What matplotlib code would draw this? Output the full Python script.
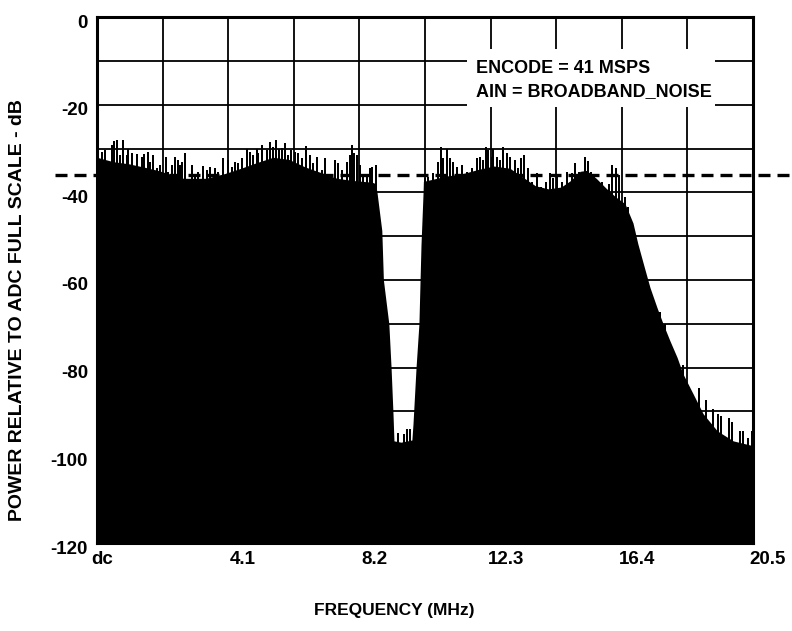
import numpy as np
import matplotlib
matplotlib.use("Agg")
import matplotlib.pyplot as plt
from matplotlib.transforms import ScaledTranslation
from matplotlib.patches import Rectangle

plt.rcParams["font.family"] = ["Liberation Sans", "DejaVu Sans"]
plt.rcParams["font.weight"] = "bold"

# noise floor body of the spectrum (MHz, dBFS)
floor_mhz = [0, 0.5, 1.0, 1.5, 1.9, 2.7, 3.4, 4.0, 4.5, 5.0, 5.5, 6.0, 6.5,
             7.0, 7.5, 8.0, 8.6, 8.7, 8.75, 8.9, 8.95, 9.12, 9.19, 9.25, 9.28,
             9.5, 9.84, 9.875, 9.97, 10.06, 10.125, 10.19, 10.2, 10.5, 10.9,
             11.4, 11.9, 12.4, 12.9, 13.3, 13.7, 14.1, 14.5, 14.8, 15.1, 15.3,
             15.6, 15.9, 16.2, 16.5, 16.75, 16.9, 17.1, 17.28, 17.5, 17.69,
             17.9, 18.13, 18.31, 18.63, 18.94, 19.38, 19.88, 20.5]
floor_db = [-32, -33, -33.5, -34.3, -35, -36.8, -36.8, -35.7, -34.5, -33.2,
            -32, -32.5, -34.2, -35.5, -36.8, -37.3, -37.7, -38, -40, -48.7,
            -60, -70, -80, -90.5, -96.7, -97, -96.5, -92.8, -80, -70, -52, -40,
            -37.5, -37, -36.3, -35.8, -34.8, -34, -34.5, -36.5, -38.5, -39.2,
            -38.8, -37.3, -35.2, -35, -36.8, -39, -41, -42.6, -47, -51.7, -57,
            -61.7, -66.3, -70, -73.8, -77.7, -81.4, -86, -90.5, -94.4, -96.7,
            -97.8]

# individual FFT bin spikes rising above the floor
spike_mhz = [0.02, 0.15, 0.25, 0.46, 0.54, 0.62, 0.72, 0.82, 0.93, 0.98, 1.08,
             1.24, 1.40, 1.48, 1.58, 1.66, 1.76, 1.86, 1.97, 2.16, 2.23, 2.33,
             2.44, 2.52, 2.59, 2.67, 2.75, 2.96, 3.06, 3.17, 3.32, 3.43, 3.53,
             3.69, 3.79, 3.95, 4.10, 4.21, 4.31, 4.42, 4.52, 4.68, 4.78, 4.88,
             4.99, 5.04, 5.17, 5.30, 5.41, 5.51, 5.58, 5.69, 5.77, 5.88, 5.98,
             6.06, 6.19, 6.29, 6.40, 6.52, 6.66, 6.76, 6.86, 7.02, 7.13, 7.28,
             7.44, 7.54, 7.65, 7.80, 7.91, 7.98, 8.04, 8.11, 8.22, 8.32, 8.43,
             8.53, 8.60, 8.71,
             9.42, 9.58, 9.68, 9.78,
             10.25, 10.35, 10.51, 10.67, 10.74, 10.82, 10.93, 11.03, 11.13,
             11.24, 11.40, 11.55, 11.71, 11.87, 11.97, 12.07, 12.15, 12.23,
             12.33, 12.39, 12.49, 12.59, 12.70, 12.80, 12.91, 13.06, 13.17,
             13.25, 13.35, 13.46, 13.60, 13.74, 13.88, 14.02, 14.16, 14.26,
             14.36, 14.52, 14.68, 14.83, 14.94, 15.06, 15.25, 15.34, 15.44,
             15.53, 15.63, 15.78, 16.0, 16.1, 16.22, 16.31, 16.5, 16.59,
             17.6, 17.75, 18.31, 18.81, 19.03, 19.25, 19.41, 19.5, 19.75,
             19.84, 20.1, 20.2, 20.34, 20.47]
spike_db = [-30, -30.9, -30.4, -29.3, -28.3, -28.1, -31.5, -28.1, -31.5, -30,
            -31, -31.3, -32, -31.3, -30.9, -33.1, -31.5, -34.5, -33.8, -32,
            -35.4, -33.8, -32, -32.7, -33.8, -33.1, -31, -33.8, -35.9, -35.4,
            -34.1, -35, -34.3, -34.5, -35.4, -32.2, -32.7, -34.3, -33.1, -33.4,
            -32.2, -30, -30.9, -31.5, -30, -31.1, -29.3, -30.4, -28.6, -29.7,
            -28.1, -30, -29.9, -28.8, -31.5, -30.4, -30.9, -31.1, -32.2, -29.5,
            -31.5, -33.4, -32, -35, -32.2, -36.1, -32.7, -33.4, -35, -33.1,
            -31.5, -29.3, -31.1, -31.5, -33.8, -36.1, -36.6, -34.5, -34.3,
            -33.8,
            -94.9, -95.2, -94, -94,
            -36.8, -36.5, -35.7, -33.1, -29.7, -32.2, -30, -32.2, -33.1, -34.3,
            -33.8, -35.4, -34.5, -32.2, -32, -32.7, -29.7, -30.4, -32, -30,
            -32, -32.7, -29.7, -31.1, -32, -32.7, -34.5, -32.2, -31.5, -34.5,
            -37.7, -35.7, -38.8, -37.7, -35.7, -36.8, -36.1, -37.7, -35.4,
            -35.7, -33.4, -35.4, -32, -32.8, -35.4, -36, -38.4, -37.7, -38,
            -33.8, -34.5, -36.1, -41, -43.4,
            -67.4, -70, -79.5, -84.6, -87.3, -89.4, -90.5, -91, -91.4, -92.5,
            -94.4, -94.5, -96, -94.4]

x_ticks = [0, 4.1, 8.2, 12.3, 16.4, 20.5]
x_labels = ["dc", "4.1", "8.2", "12.3", "16.4", "20.5"]
y_ticks = [-120, -100, -80, -60, -40, -20, 0]
ref_level = -36
notes = ["ENCODE = 41 MSPS", "AIN = BROADBAND_NOISE"]

fig = plt.figure(figsize=(7.92, 6.31), dpi=100)
ax = fig.add_axes([97 / 792, 88 / 631, 656 / 792, 526 / 631])
ax.set_xlim(0, 20.5)
ax.set_ylim(-120, 0)

ax.fill_between(floor_mhz, floor_db, -120, color="black", lw=0, zorder=2)
ax.vlines(spike_mhz, -120, spike_db, color="black", lw=1.1,
          antialiased=False, zorder=2)

ax.set_xticks(x_ticks)
ax.set_xticks(np.arange(0, 20.6, 2.05), minor=True)
ax.set_xticklabels(x_labels, fontsize=13.5, fontweight="bold")
ax.set_yticks(y_ticks)
ax.set_yticks(np.arange(-120, 1, 10), minor=True)
ax.set_yticklabels([str(v) for v in y_ticks], fontsize=13.5, fontweight="bold")
ax.tick_params(which="both", length=0)
ax.tick_params(axis="x", pad=6)
ax.tick_params(axis="y", pad=6.5)
ax.grid(which="both", color="black", lw=1.3, zorder=1)
ax.set_axisbelow(True)
for s in ax.spines.values():
    s.set_linewidth(2.2)
    s.set_zorder(5)

xoff = ScaledTranslation(15 / 100, 0, fig.dpi_scale_trans)
for i, lab in enumerate(ax.get_xticklabels()):
    if i == 0:
        lab.set_transform(lab.get_transform() + ScaledTranslation(5 / 100, 0, fig.dpi_scale_trans))
    else:
        lab.set_transform(lab.get_transform() + xoff)
yoff = ScaledTranslation(0, -4 / 100, fig.dpi_scale_trans)
for lab in ax.get_yticklabels():
    lab.set_transform(lab.get_transform() + yoff)

# dashed reference line, runs past both sides of the frame
ax.axhline(ref_level, xmin=-0.064, xmax=1.06, color="black", lw=2.4,
           dashes=(3.6, 2.1), clip_on=False, zorder=6)

# white label box over the grid
ax.add_patch(Rectangle((11.56, -20.6), 7.75, 13.3, facecolor="white",
                       edgecolor="none", zorder=3))
ax.text(11.84, -11.66, notes[0], fontsize=13, fontweight="bold", va="center", zorder=4)
ax.text(11.84, -17.1, notes[1], fontsize=13, fontweight="bold", va="center", zorder=4)

fig.text(394 / 792, 1 - 610 / 631, "FREQUENCY (MHz)", fontsize=12.5,
         fontweight="bold", ha="center", va="center")
fig.text(18 / 792, 1 - 310 / 631, "POWER RELATIVE TO ADC FULL SCALE - dB",
         fontsize=14, fontweight="bold", ha="center", va="center", rotation=90)

fig.savefig("out.png", dpi=100)
